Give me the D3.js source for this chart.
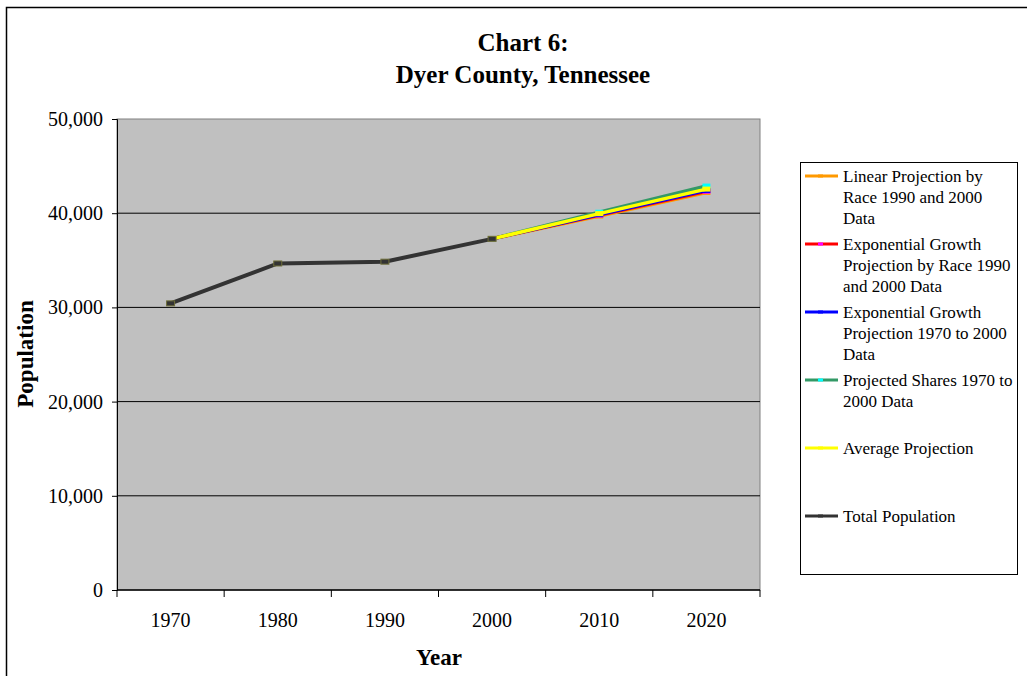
<!DOCTYPE html>
<html>
<head>
<meta charset="utf-8">
<script src="https://cdn.jsdelivr.net/npm/d3@7"></script>
<style>
  body { margin: 0; background: #fff; }
  text { font-family: "Liberation Serif", "Times New Roman", serif; }
</style>
</head>
<body>
<svg id="viz" width="1027" height="676"></svg>
<script>
var width = 1027;
var height = 676;

// ====================================================
// Data
// ====================================================
var years = ["1970", "1980", "1990", "2000", "2010", "2020"];
var totalPopulation = [30427, 34663, 34854, 37279, null, null];
var linearByRace = [null, null, null, 37279, 39700, 42200];
var expByRace = [null, null, null, 37279, 39800, 42330];
var expGrowth = [null, null, null, 37279, 39850, 42420];
var projectedShares = [null, null, null, 37279, 40100, 42880];
var averageProjection = [null, null, null, 37279, 39950, 42560];
var yTicks = [0, 10000, 20000, 30000, 40000, 50000];

var series = [
  { name: ["Linear Projection by", "Race 1990 and 2000", "Data"], values: linearByRace, color: "#FF9900", marker: "#FF9900" },
  { name: ["Exponential Growth", "Projection by Race 1990", "and 2000 Data"], values: expByRace, color: "#FF0000", marker: "#FF00FF" },
  { name: ["Exponential Growth", "Projection 1970 to 2000", "Data"], values: expGrowth, color: "#0000FF", marker: "#0000FF" },
  { name: ["Projected Shares 1970 to", "2000 Data"], values: projectedShares, color: "#339966", marker: "#00FFFF" },
  { name: ["Average Projection"], values: averageProjection, color: "#FFFF00", marker: "#FFFF00" },
  { name: ["Total Population"], values: totalPopulation, color: "#333333", marker: "#333333" }
];

var plot = { left: 117, right: 760, top: 119, bottom: 590 };

var svg = d3.select("#viz");

// outer chart border
svg.append("rect")
  .attr("x", 6.5).attr("y", 7.5)
  .attr("width", 1040).attr("height", 700)
  .attr("fill", "none").attr("stroke", "#000").attr("stroke-width", 1.5);

var x = d3.scaleBand().domain(years).range([plot.left, plot.right]);
var y = d3.scaleLinear().domain([0, 50000]).range([plot.bottom, plot.top]);

// plot area
svg.append("rect")
  .attr("x", plot.left).attr("y", plot.top)
  .attr("width", plot.right - plot.left).attr("height", plot.bottom - plot.top)
  .attr("fill", "#C0C0C0").attr("stroke", "#808080");

// gridlines
svg.append("g").selectAll("line")
  .data(yTicks.filter(d => d > 0 && d < 50000))
  .join("line")
  .attr("x1", plot.left).attr("x2", plot.right)
  .attr("y1", d => y(d)).attr("y2", d => y(d))
  .attr("stroke", "#000").attr("stroke-width", 1);

// y axis
var yAxis = svg.append("g")
  .attr("transform", `translate(${plot.left},0)`)
  .call(d3.axisLeft(y).tickValues(yTicks).tickSize(5).tickPadding(9).tickFormat(d3.format(",")));
yAxis.select(".domain").attr("stroke", "#000");
yAxis.selectAll("text").style("font-size", "20px").attr("fill", "#000")
  .style("font-family", "'Liberation Serif', serif");

// x axis: ticks at band edges
var xAxisG = svg.append("g").attr("transform", `translate(0,${plot.bottom})`);
xAxisG.append("line")
  .attr("x1", plot.left).attr("x2", plot.right)
  .attr("stroke", "#000").attr("stroke-width", 1.5);
var edges = years.map(d => x(d)).concat([plot.right]);
xAxisG.selectAll("line.tick")
  .data(edges)
  .join("line").attr("class", "tick")
  .attr("x1", d => d).attr("x2", d => d)
  .attr("y1", 0).attr("y2", 7)
  .attr("stroke", "#000");
xAxisG.selectAll("text")
  .data(years)
  .join("text")
  .attr("x", d => x(d) + x.bandwidth() / 2)
  .attr("y", 37)
  .attr("text-anchor", "middle")
  .style("font-size", "20px")
  .text(d => d);

// lines
var line = d3.line()
  .defined(d => d.v != null)
  .x(d => x(d.year) + x.bandwidth() / 2)
  .y(d => y(d.v));

series.forEach(function (s) {
  var pts = s.values.map((v, i) => ({ year: years[i], v: v }));
  var isTotal = s.name[0] == "Total Population";
  svg.append("path")
    .datum(pts)
    .attr("fill", "none")
    .attr("stroke", s.color)
    .attr("stroke-width", isTotal ? 4 : 3.5)
    .attr("d", line);
  svg.append("g").selectAll("rect")
    .data(pts.filter(d => d.v != null))
    .join("rect")
    .attr("x", d => x(d.year) + x.bandwidth() / 2 - 4)
    .attr("y", d => y(d.v) - 2.5)
    .attr("width", 8).attr("height", 5)
    .attr("fill", s.marker)
    .attr("stroke", isTotal ? "#6f6f3a" : "none")
    .attr("stroke-width", 1);
});

// titles
var title = svg.append("text")
  .attr("text-anchor", "middle")
  .style("font-size", "25px").style("font-weight", "bold");
title.append("tspan").attr("x", 523).attr("y", 51).text("Chart 6:");
title.append("tspan").attr("x", 523).attr("y", 83).text("Dyer County, Tennessee");

svg.append("text")
  .attr("x", 439).attr("y", 665)
  .attr("text-anchor", "middle")
  .style("font-size", "23px").style("font-weight", "bold")
  .text("Year");

svg.append("text")
  .attr("transform", "translate(33,354) rotate(-90)")
  .attr("text-anchor", "middle")
  .style("font-size", "23px").style("font-weight", "bold")
  .text("Population");

// legend
var legend = svg.append("g");
legend.append("rect")
  .attr("x", 800.5).attr("y", 162.5)
  .attr("width", 217).attr("height", 412)
  .attr("fill", "#fff").attr("stroke", "#000");

var legendY = [176, 244, 312, 380, 448, 516];
series.forEach(function (s, i) {
  var g = legend.append("g").attr("transform", `translate(0,${legendY[i]})`);
  g.append("line")
    .attr("x1", 805).attr("x2", 838)
    .attr("stroke", s.color).attr("stroke-width", 3);
  g.append("rect")
    .attr("x", 818).attr("y", -1.5).attr("width", 5).attr("height", 3)
    .attr("fill", s.marker);
  var t = g.append("text").style("font-size", "17px");
  s.name.forEach(function (ln, j) {
    t.append("tspan").attr("x", 843).attr("y", 6 + j * 21).text(ln);
  });
});
</script>
</body>
</html>
